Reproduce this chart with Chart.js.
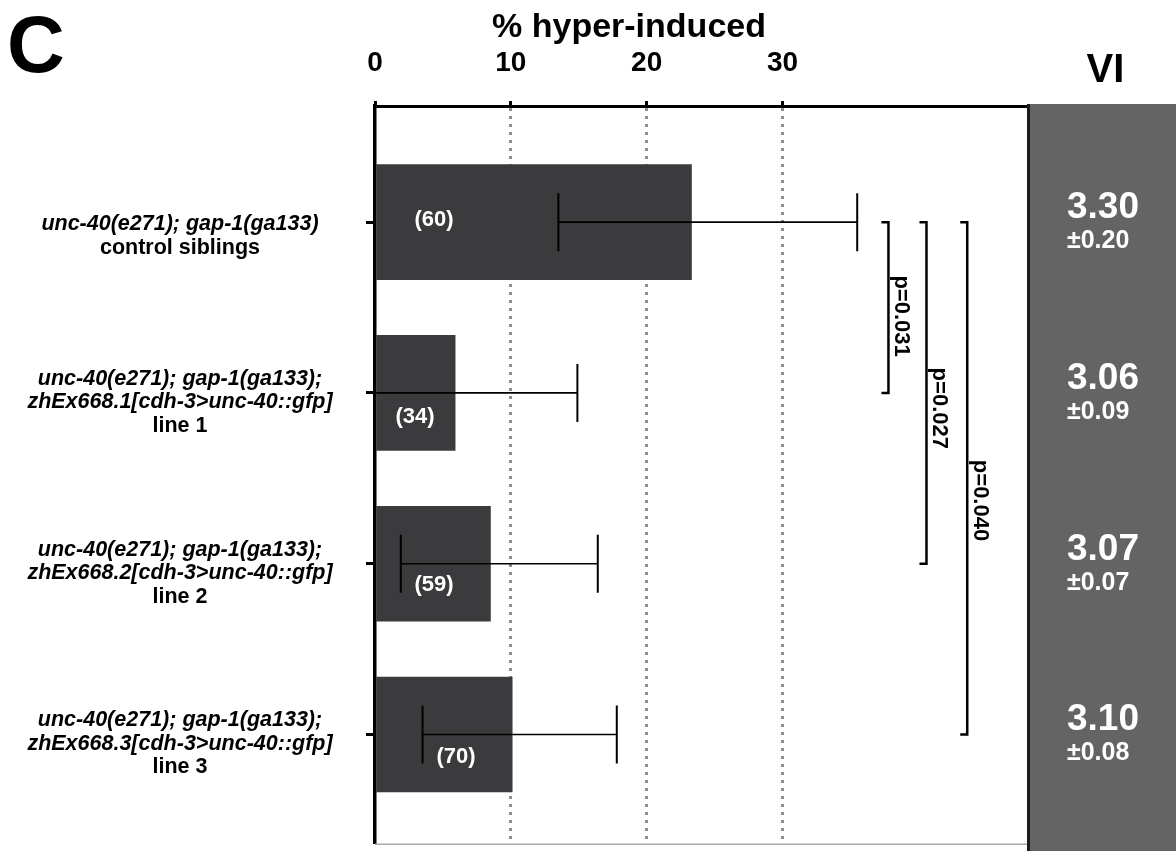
<!DOCTYPE html>
<html>
<head>
<meta charset="utf-8">
<script src="https://cdn.jsdelivr.net/npm/chart.js@4.4.1/dist/chart.umd.min.js"></script>
<style>
  html, body { margin: 0; padding: 0; background: #fff; }
</style>
</head>
<body>
<canvas id="Chart" width="1176" height="851"></canvas>
<script>
// Rows of the chart, top to bottom
var rows = [1, 2, 3, 4];
var genotypeLines = [
    ['unc-40(e271); gap-1(ga133)'],
    ['unc-40(e271); gap-1(ga133);', 'zhEx668.1[cdh-3>unc-40::gfp]'],
    ['unc-40(e271); gap-1(ga133);', 'zhEx668.2[cdh-3>unc-40::gfp]'],
    ['unc-40(e271); gap-1(ga133);', 'zhEx668.3[cdh-3>unc-40::gfp]']
];
var lineNames = ['control siblings', 'line 1', 'line 2', 'line 3'];

// % hyper-induced with error range
var pctHyper = [23.3, 5.9, 8.5, 10.1];
var errLow = [13.5, -3.1, 1.9, 3.5];
var errHigh = [35.5, 14.9, 16.4, 17.8];
var nAnimals = [60, 34, 59, 70];

// VI column
var viMean = ['3.30', '3.06', '3.07', '3.10'];
var viSem = ['0.20', '0.09', '0.07', '0.08'];

// p values, row 1 against rows 2, 3, 4
var pValues = ['p=0.031', 'p=0.027', 'p=0.040'];
var pRowTo = [2, 3, 4];

var xTicks = [0, 10, 20, 30];

// styling / placement
var FONT = '"Liberation Sans", Arial, Helvetica, sans-serif';
var nLabelOffset = [[59, -2], [40, 24], [59, 21], [81, 22]];
var bracketX = [37.8, 40.6, 43.6];
var pTextRow = [1.55, 2.09, 2.63];

var annotations = {
    id: 'annotations',
    afterDatasetsDraw: function (chart) {
        var ctx = chart.ctx, xs = chart.scales.x, ys = chart.scales.y, area = chart.chartArea;
        ctx.save();
        ctx.beginPath();
        ctx.rect(area.left, area.top, area.right - area.left, area.bottom - area.top);
        ctx.clip();
        ctx.strokeStyle = '#000';
        for (var i = 0; i < rows.length; i++) {
            var y = ys.getPixelForValue(rows[i]);
            var x1 = xs.getPixelForValue(errLow[i]);
            var x2 = xs.getPixelForValue(errHigh[i]);
            ctx.lineWidth = 1.6;
            ctx.beginPath();
            ctx.moveTo(x1, y); ctx.lineTo(x2, y);
            ctx.stroke();
            ctx.lineWidth = 2;
            ctx.beginPath();
            ctx.moveTo(x1, y - 29); ctx.lineTo(x1, y + 29);
            ctx.moveTo(x2, y - 29); ctx.lineTo(x2, y + 29);
            ctx.stroke();
        }
        ctx.restore();

        // n per bar
        ctx.save();
        ctx.fillStyle = '#fff';
        ctx.font = 'bold 22px ' + FONT;
        ctx.textAlign = 'center';
        ctx.textBaseline = 'middle';
        for (var j = 0; j < rows.length; j++) {
            ctx.fillText('(' + nAnimals[j] + ')', xs.getPixelForValue(0) + nLabelOffset[j][0],
                ys.getPixelForValue(rows[j]) + nLabelOffset[j][1]);
        }
        ctx.restore();

        // p value brackets
        ctx.save();
        ctx.strokeStyle = '#000';
        ctx.lineWidth = 2.5;
        ctx.fillStyle = '#000';
        ctx.font = 'bold 22px ' + FONT;
        ctx.textAlign = 'center';
        ctx.textBaseline = 'middle';
        for (var k = 0; k < pValues.length; k++) {
            var bx = xs.getPixelForValue(bracketX[k]);
            var yA = ys.getPixelForValue(rows[0]);
            var yB = ys.getPixelForValue(pRowTo[k]);
            ctx.beginPath();
            ctx.moveTo(bx - 7, yA); ctx.lineTo(bx, yA); ctx.lineTo(bx, yB); ctx.lineTo(bx - 7, yB);
            ctx.stroke();
            ctx.save();
            ctx.translate(bx + 13, ys.getPixelForValue(pTextRow[k]));
            ctx.rotate(Math.PI / 2);
            ctx.fillText(pValues[k], 0, 0);
            ctx.restore();
        }
        ctx.restore();
    },
    afterDraw: function (chart) {
        var ctx = chart.ctx, ys = chart.scales.y, area = chart.chartArea;
        var W = chart.width, H = chart.height;
        ctx.save();

        // bottom edge
        ctx.strokeStyle = '#aaaaaa';
        ctx.lineWidth = 1.5;
        ctx.beginPath();
        ctx.moveTo(area.left, area.bottom + 0.5); ctx.lineTo(area.right, area.bottom + 0.5);
        ctx.stroke();

        // genotype labels
        ctx.fillStyle = '#000';
        ctx.textAlign = 'center';
        ctx.textBaseline = 'middle';
        for (var i = 0; i < rows.length; i++) {
            var lines = genotypeLines[i].concat([lineNames[i]]);
            var lh = 23.5;
            var first = ys.getPixelForValue(rows[i]) + 2 - (lines.length - 2) * 16;
            for (var l = 0; l < lines.length; l++) {
                ctx.font = (l < lines.length - 1 ? 'italic bold ' : 'bold ') + '21.5px ' + FONT;
                ctx.fillText(lines[l], 180, first + l * lh);
            }
        }

        // VI panel
        ctx.fillStyle = '#646464';
        ctx.fillRect(area.right, area.top - 2, W - area.right, H - area.top + 2);
        ctx.strokeStyle = '#1c1c1c';
        ctx.lineWidth = 3;
        ctx.beginPath();
        ctx.moveTo(area.right + 1.5, area.top - 2); ctx.lineTo(area.right + 1.5, H);
        ctx.stroke();

        ctx.textAlign = 'left';
        ctx.textBaseline = 'alphabetic';
        ctx.fillStyle = '#fff';
        for (var j = 0; j < rows.length; j++) {
            var ty = ys.getPixelForValue(rows[j]);
            ctx.font = 'bold 37px ' + FONT;
            ctx.fillText(viMean[j], area.right + 40, ty - 4);
            ctx.font = 'bold 25px ' + FONT;
            ctx.fillText('\u00b1' + viSem[j], area.right + 40, ty + 26);
        }

        ctx.fillStyle = '#000';
        ctx.textAlign = 'center';
        ctx.font = 'bold 40px ' + FONT;
        ctx.fillText('VI', area.right + (W - area.right) / 2 + 4, 82);

        // axis title and panel letter
        ctx.font = 'bold 34px ' + FONT;
        ctx.fillText('% hyper-induced', 629, 37);
        ctx.textAlign = 'left';
        ctx.font = 'bold 80px ' + FONT;
        ctx.fillText('C', 7, 72);
        ctx.restore();
    }
};

var config = {
    type: 'bar',
    data: {
        labels: rows,
        datasets: [{
            data: rows.map(function (r, i) { return { x: pctHyper[i], y: r }; }),
            backgroundColor: '#3b3b3d',
            borderWidth: 0,
            barPercentage: 1,
            categoryPercentage: 1,
            maxBarThickness: 115
        }]
    },
    options: {
        indexAxis: 'y',
        responsive: false,
        animation: false,
        devicePixelRatio: 1,
        layout: { padding: { left: 0, top: 0, right: 149, bottom: 2 } },
        plugins: { legend: { display: false }, tooltip: { enabled: false } },
        scales: {
            x: {
                type: 'linear',
                position: 'top',
                min: 0,
                max: 48,
                offset: false,
                z: 1,
                afterBuildTicks: function (axis) {
                    axis.ticks = xTicks.map(function (v) { return { value: v }; });
                },
                afterFit: function (axis) { axis.height = 106; },
                ticks: {
                    color: '#000',
                    padding: 21,
                    maxRotation: 0,
                    font: { family: FONT, size: 28, weight: 'bold' }
                },
                grid: {
                    offset: false,
                    color: function (c) { return c.tick && c.tick.value === 0 ? 'rgba(0,0,0,0)' : '#8f8f8f'; },
                    lineWidth: 3,
                    drawTicks: true,
                    tickLength: 5,
                    tickWidth: 3,
                    tickColor: '#000'
                },
                border: { display: true, color: '#000', width: 3, dash: [3, 5] }
            },
            y: {
                type: 'linear',
                position: 'left',
                reverse: true,
                min: 0.32,
                max: 4.64,
                offset: false,
                z: 1,
                afterBuildTicks: function (axis) {
                    axis.ticks = rows.map(function (v) { return { value: v }; });
                },
                afterFit: function (axis) { axis.width = 375; },
                ticks: { callback: function () { return ''; }, padding: 0 },
                grid: {
                    offset: false,
                    drawOnChartArea: false,
                    drawTicks: true,
                    tickLength: 9,
                    tickWidth: 3,
                    tickColor: '#000'
                },
                border: { display: true, color: '#000', width: 3.5 }
            }
        }
    },
    plugins: [annotations]
};

var ctx = document.getElementById('Chart').getContext('2d');
var myChart = new Chart(ctx, config);
</script>
</body>
</html>
